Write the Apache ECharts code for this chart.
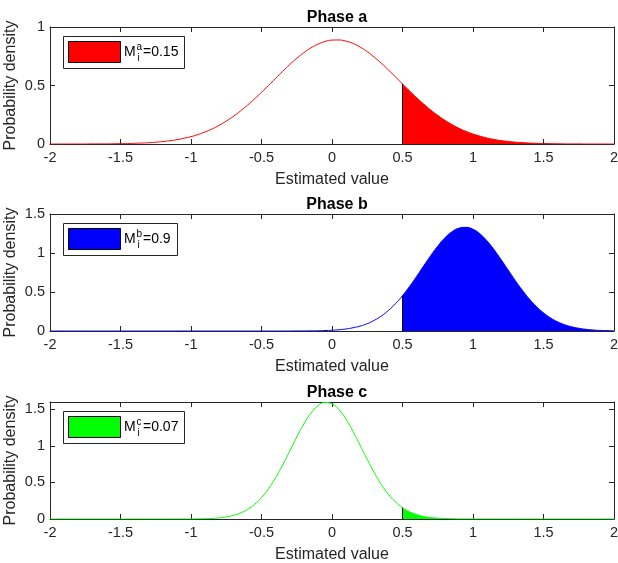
<!DOCTYPE html>
<html>
<head>
<meta charset="utf-8">
<script src="https://cdn.jsdelivr.net/npm/echarts@6/dist/echarts.min.js"></script>
<style>html,body{margin:0;padding:0;background:#fff}#c{width:618px;height:563px}</style>
</head>
<body>
<div id="c"></div>
<script>
const xs = [-2.00,-1.95,-1.90,-1.85,-1.80,-1.75,-1.70,-1.65,-1.60,-1.55,-1.50,-1.45,-1.40,-1.35,-1.30,-1.25,-1.20,-1.15,-1.10,-1.05,
  -1.00,-0.95,-0.90,-0.85,-0.80,-0.75,-0.70,-0.65,-0.60,-0.55,-0.50,-0.45,-0.40,-0.35,-0.30,-0.25,-0.20,-0.15,-0.10,-0.05,
  0.00,0.05,0.10,0.15,0.20,0.25,0.30,0.35,0.40,0.45,0.50,0.55,0.60,0.65,0.70,0.75,0.80,0.85,0.90,0.95,
  1.00,1.05,1.10,1.15,1.20,1.25,1.30,1.35,1.40,1.45,1.50,1.55,1.60,1.65,1.70,1.75,1.80,1.85,1.90,1.95,2.00];
const densA = [0,0,0,0,0,0,0.001,0.001,0.001,0.002,0.003,0.004,0.006,0.008,0.011,0.015,0.021,0.028,0.037,0.049,
  0.063,0.081,0.103,0.129,0.160,0.196,0.236,0.281,0.331,0.385,0.442,0.501,0.561,0.621,0.679,0.732,0.780,0.821,0.853,0.876,
  0.888,0.889,0.879,0.859,0.828,0.789,0.742,0.690,0.633,0.574,0.513,0.454,0.396,0.342,0.291,0.245,0.203,0.167,0.135,0.108,
  0.085,0.067,0.051,0.039,0.029,0.022,0.016,0.012,0.008,0.006,0.004,0.003,0.002,0.001,0.001,0.001,0,0,0,0,0];
const densB = [0,0,0,0,0,0,0,0,0,0,0,0,0,0,0,0,0,0,0,0,
  0,0,0,0,0,0,0,0,0,0,0,0,0,0,0,0.001,0.001,0.002,0.003,0.006,
  0.010,0.016,0.026,0.042,0.063,0.094,0.137,0.192,0.263,0.350,0.453,0.571,0.700,0.834,0.966,1.088,1.193,1.271,1.318,1.329,
  1.304,1.244,1.154,1.041,0.913,0.780,0.647,0.523,0.410,0.313,0.233,0.168,0.118,0.081,0.054,0.035,0.022,0.013,0.008,0.005,0.003];
const densC = [0,0,0,0,0,0,0,0,0,0,0,0,0,0,0,0,0,0,0,0,
  0.001,0.002,0.004,0.008,0.016,0.028,0.049,0.081,0.130,0.199,0.293,0.416,0.565,0.739,0.928,1.121,1.299,1.448,1.550,1.594,
  1.575,1.495,1.364,1.195,1.006,0.814,0.633,0.472,0.339,0.234,0.155,0.098,0.060,0.035,0.020,0.011,0.006,0.003,0.001,0.001,
  0,0,0,0,0,0,0,0,0,0,0,0,0,0,0,0,0,0,0,0,0];
const threshold = 0.5;
const panelTitles = ['Phase a','Phase b','Phase c'];
const supLetters = ['a','b','c'];
const mValues = ['0.15','0.9','0.07'];
const colors = ['#ff0000','#0000ff','#00ff00'];
const yMax = [1, 1.5, 1.6];
const dens = [densA, densB, densC];

const FONT = 'Liberation Sans, Arial, Helvetica, sans-serif';
const AX = '#262626';
const tops = [27, 214, 402];
const H = 117;
const L = 50, R = 4;

const option = {animation:false, grid:[], xAxis:[], yAxis:[], series:[], title:[], graphic:[]};
for (let p = 0; p < 3; p++) {
  option.grid.push({left:L, right:R, top:tops[p], height:H, containLabel:false, outerBoundsMode:'none'});
  const baseX = {gridIndex:p, type:'value', min:-2, max:2, interval:0.5,
    axisLine:{onZero:false, lineStyle:{color:AX, width:1}},
    axisTick:{inside:true, length:5, lineStyle:{color:AX}},
    splitLine:{show:false}};
  option.xAxis.push(Object.assign({}, baseX, {position:'bottom',
    axisLabel:{color:AX, fontSize:14.5, fontFamily:FONT, margin:6},
    name:'Estimated value', nameLocation:'middle', nameGap:28,
    nameTextStyle:{color:AX, fontSize:16, fontFamily:FONT}}));
  option.xAxis.push(Object.assign({}, baseX, {position:'top', axisLabel:{show:false}}));
  const baseY = {gridIndex:p, type:'value', min:0, max:yMax[p], interval:0.5,
    axisLine:{show:true, onZero:false, lineStyle:{color:AX, width:1}},
    axisTick:{show:true, inside:true, length:5, lineStyle:{color:AX}},
    splitLine:{show:false}};
  option.yAxis.push(Object.assign({}, baseY, {position:'left',
    axisLabel:{color:AX, fontSize:14.5, fontFamily:FONT, margin:5, showMaxLabel:p !== 2},
    name:'Probability density', nameLocation:'middle', nameGap:31, nameMoveOverlap:false,
    nameTextStyle:{color:AX, fontSize:16, fontFamily:FONT}}));
  option.yAxis.push(Object.assign({}, baseY, {position:'right', axisLabel:{show:false}}));

  const d = dens[p];
  const full = xs.map((x, i) => [x, d[i]]);
  const shaded = full.filter(pt => pt[0] >= threshold);
  const yAt = d[xs.indexOf(threshold)];
  option.series.push({type:'line', xAxisIndex:2*p, yAxisIndex:2*p, data:shaded, smooth:true,
    symbol:'none', lineStyle:{width:0}, areaStyle:{color:colors[p], opacity:1}, z:2});
  option.series.push({type:'line', xAxisIndex:2*p, yAxisIndex:2*p, data:full, smooth:true,
    symbol:'none', lineStyle:{width:1, color:colors[p]}, z:3});
  option.series.push({type:'line', xAxisIndex:2*p, yAxisIndex:2*p, data:[[threshold,0],[threshold,yAt]],
    symbol:'none', lineStyle:{width:1, color:'#000'}, z:4});

  option.title.push({text:panelTitles[p], left:332, top:tops[p]-22, textAlign:'center',
    textStyle:{fontSize:16, fontWeight:'bold', color:'#000', fontFamily:FONT}});

  const t = tops[p];
  const bw = p === 1 ? 114 : 121;
  option.graphic.push(
    {type:'rect', z:100, shape:{x:63.5, y:t+9.5, width:bw, height:32}, style:{fill:'#fff', stroke:AX, lineWidth:1}},
    {type:'rect', z:101, shape:{x:68.5, y:t+14.5, width:52, height:21}, style:{fill:colors[p], stroke:'#000', lineWidth:1}},
    {type:'text', z:101, x:124, y:t+25, style:{text:'M', font:'14px '+FONT, fill:'#000', verticalAlign:'middle'}},
    {type:'text', z:101, x:136.5, y:t+20, style:{text:supLetters[p], font:'10px '+FONT, fill:'#000', verticalAlign:'middle'}},
    {type:'text', z:101, x:137.5, y:t+31, style:{text:'i', font:'10px '+FONT, fill:'#000', verticalAlign:'middle'}},
    {type:'text', z:101, x:143, y:t+25, style:{text:'='+mValues[p], font:'14px '+FONT, fill:'#000', verticalAlign:'middle'}}
  );
}
const chart = echarts.init(document.getElementById('c'), null, {renderer:'canvas'});
chart.setOption(option);
</script>
</body>
</html>
